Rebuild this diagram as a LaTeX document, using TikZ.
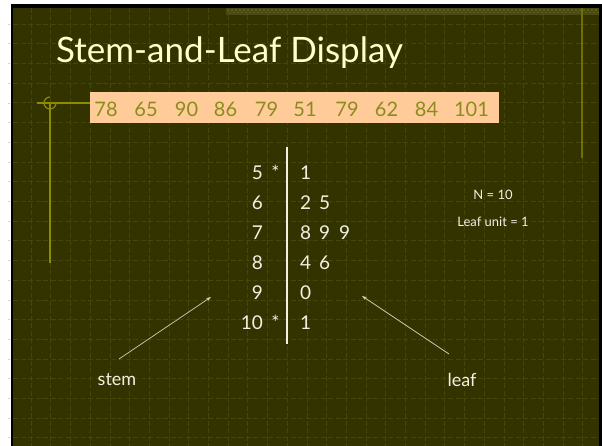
\documentclass[tikz,border=0pt]{standalone}
\usepackage{fontspec}
\setmainfont{Lato}
\usetikzlibrary{arrows.meta}
\definecolor{bgolive}{RGB}{51,51,0}
\definecolor{gridcol}{RGB}{70,70,10}
\definecolor{deco}{RGB}{140,140,0}
\definecolor{rdeco}{RGB}{112,112,0}
\definecolor{band}{RGB}{74,74,20}
\definecolor{bandpat}{RGB}{92,92,30}
\definecolor{numcol}{RGB}{140,140,30}
\definecolor{peach}{HTML}{FFCC99}
\definecolor{titlecol}{HTML}{FFFFCC}
\definecolor{txt}{RGB}{240,240,228}
\definecolor{arrcol}{RGB}{205,205,185}
\tikzset{
  num/.style={inner sep=0pt, text=numcol, font=\fontsize{20}{24}\selectfont},
  stemtxt/.style={inner sep=0pt, text=txt, font=\fontsize{19}{23}\selectfont},
  small/.style={inner sep=0pt, text=txt, font=\fontsize{13}{16}\selectfont},
  lbl/.style={inner sep=0pt, text=txt, font=\fontsize{18}{22}\selectfont},
  arr/.style={draw=arrcol, line width=0.7pt, -{Stealth[length=5pt,width=3.5pt]}},
  gridln/.style={draw=gridcol, line width=0.6pt, dash pattern=on 5pt off 2.5pt}
}
\begin{document}
\begin{tikzpicture}[x=1pt,y=-1pt]
\useasboundingbox (0,0) rectangle (602,446);
% white page and black frame
\fill[white] (0,0) rectangle (602,446);
\fill[black] (10.5,4) rectangle (602,446);
\fill[bgolive] (13,8) rectangle (599,446);
% left margin ticks
\foreach \k in {0,...,21}{
  \draw[gray!35, line width=0.5pt] (7.5,{24+19.7*\k}) -- (10,{24+19.7*\k});
}
% grid
\foreach \k in {0,...,21}{
  \draw[gridln] (13,{24+19.7*\k}) -- (599,{24+19.7*\k});
}
\foreach \k in {0,...,28}{
  \draw[gridln] ({31+19.7*\k},8) -- ({31+19.7*\k},446);
}
% top band
\fill[band] (226,8) rectangle (599,15);
\foreach \k in {0,...,92}{
  \fill[bandpat] ({227+4*\k},9.5) rectangle ({228.5+4*\k},11);
  \fill[bandpat] ({229+4*\k},12) rectangle ({230.5+4*\k},13.5);
}
% right vertical line
\draw[rdeco, line width=2pt] (581.5,8) -- (581.5,158);
% left decoration
\draw[deco, line width=1.2pt] (50,103) ++(6,0) arc[start angle=0, end angle=270, radius=6];
\draw[deco, line width=1.2pt] (37,103) -- (90,103);
\draw[deco, line width=1.2pt] (50,103) -- (50,263);
% title
\node[anchor=base west, inner sep=0pt, text=titlecol, font=\fontsize{35}{40}\selectfont] (title) at (56,63) {Stem-and-Leaf Display};
% data box
\fill[peach] (90,92) rectangle (499,123);
\node[num] (d1) at (106,109) {78};
\node[num] (d2) at (146,109) {65};
\node[num] (d3) at (186.5,109) {90};
\node[num] (d4) at (225.5,109) {86};
\node[num] (d5) at (266.5,109) {79};
\node[num] (d6) at (305,109) {51};
\node[num] (d7) at (347,109) {79};
\node[num] (d8) at (386.5,109) {62};
\node[num] (d9) at (426.5,109) {84};
\node[num] (d10) at (471.5,109) {101};
% stem line
\draw[txt, line width=1.2pt] (287,147) -- (287,344);
% stems
\node[stemtxt, anchor=east] (s5) at (263,173) {5};
\node[stemtxt] (st5) at (275.5,172) {*};
\node[stemtxt, anchor=east] (s6) at (263,203) {6};
\node[stemtxt, anchor=east] (s7) at (263,233) {7};
\node[stemtxt, anchor=east] (s8) at (263,263) {8};
\node[stemtxt, anchor=east] (s9) at (263,293) {9};
\node[stemtxt, anchor=east] (s10) at (263,323) {10};
\node[stemtxt] (st10) at (275.5,322) {*};
% leaves
\node[stemtxt, anchor=west] (l5) at (300,173) {1};
\node[stemtxt, anchor=west] (l6) at (300,203) {2\hspace{8pt}5};
\node[stemtxt, anchor=west] (l7) at (300,233) {8\hspace{8pt}9\hspace{9pt}9};
\node[stemtxt, anchor=west] (l8) at (300,263) {4\hspace{8pt}6};
\node[stemtxt, anchor=west] (l9) at (300,293) {0};
\node[stemtxt, anchor=west] (l10) at (300,323) {1};
% info
\node[small] (nn) at (493,195) {N = 10};
\node[small] (lu) at (493,222) {Leaf unit = 1};
% labels and arrows
\node[lbl] (stem) at (117,380) {stem};
\node[lbl] (leaf) at (462,380) {leaf};
\coordinate (sa) at (119,359);
\coordinate (sb) at (211,297);
\coordinate (la) at (449,354);
\coordinate (lb) at (362,296);
\draw[arr] (sa) -- (sb);
\draw[arr] (la) -- (lb);
\end{tikzpicture}
\end{document}
